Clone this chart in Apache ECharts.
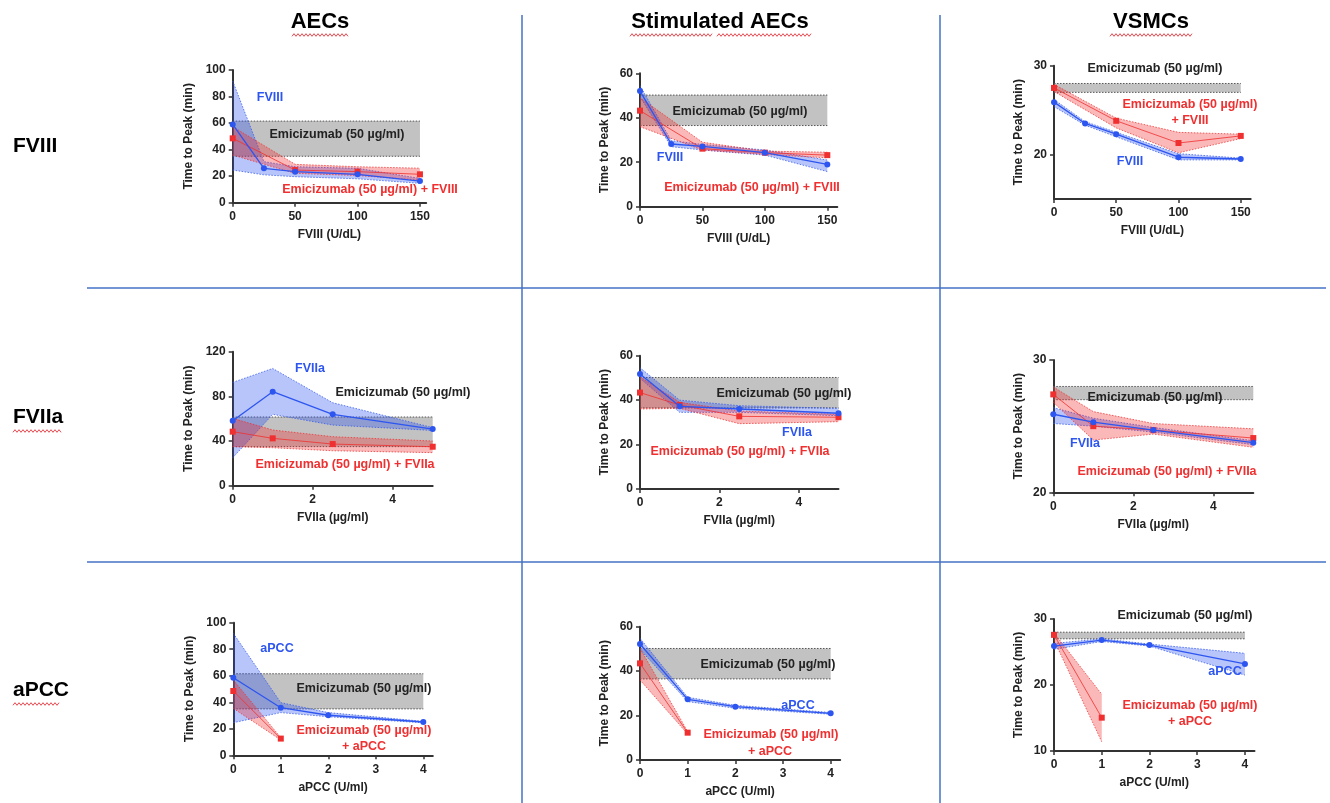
<!DOCTYPE html>
<html><head><meta charset="utf-8">
<script src="https://cdn.jsdelivr.net/npm/echarts@6/dist/echarts.min.js"></script>
<style>html,body{margin:0;padding:0;background:#fff}#c{width:1330px;height:803px}</style>
</head><body><div id="c"></div>
<script>
// ---------- DATA ----------
const colTitles = ['AECs', 'Stimulated AECs', 'VSMCs'];
const rowTitles = ['FVIII', 'FVIIa', 'aPCC'];
const xNames = ['FVIII (U/dL)', 'FVIIa (µg/ml)', 'aPCC (U/ml)'];
const yName = 'Time to Peak (min)';

const xFVIII = [0, 25, 50, 100, 150];
const xFVIIIred = [0, 50, 100, 150];
const xFVIIa = [0, 1, 2.5, 5];
const xAPCC = [0, 1, 2, 4];
const xAPCCred = [0, 1];

const xTicksFVIII = [0, 50, 100, 150];
const xTicksFVIIa = [0, 2, 4];
const xTicksAPCC = [0, 1, 2, 3, 4];
const yTicksAEC = [0, 20, 40, 60, 80, 100];
const yTicksAEC120 = [0, 40, 80, 120];
const yTicksStim = [0, 20, 40, 60];
const yTicksVSMC = [20, 30];
const yTicksVSMC10 = [10, 20, 30];

// Emicizumab (50 µg/ml) reference band [low, high]
const emiAEC = [35, 61.5];
const emiStim = [36.5, 50.2];
const emiVSMC = [27, 28];

// AECs + FVIII
const aecF8BlueMean = [59, 25.9, 23.4, 21.4, 16.3];
const aecF8BlueLo   = [24.6, 21, 19.6, 18, 14.6];
const aecF8BlueHi   = [91.7, 30.9, 27.1, 25.9, 18.3];
const aecF8RedMean  = [48.5, 24.6, 23.4, 21.4];
const aecF8RedLo    = [35.9, 22.1, 20.5, 17];
const aecF8RedHi    = [57.3, 28.9, 27.1, 26];
// Stimulated AECs + FVIII
const stimF8BlueMean = [52, 28.2, 27.1, 24.3, 19];
const stimF8BlueLo   = [49.5, 27, 25.5, 23.2, 15.8];
const stimF8BlueHi   = [54.5, 29.7, 28, 25.5, 21];
const stimF8RedMean  = [43.2, 26.1, 24.3, 23.2];
const stimF8RedLo    = [36, 25.5, 23.5, 22];
const stimF8RedHi    = [49, 29, 25, 24.5];
// VSMCs + FVIII
const vsmcF8BlueMean = [25.9, 23.5, 22.3, 19.7, 19.5];
const vsmcF8BlueLo   = [25.4, 23.3, 22.0, 19.4, 19.4];
const vsmcF8BlueHi   = [26.2, 23.7, 22.5, 20.1, 19.6];
const vsmcF8RedMean  = [27.5, 23.8, 21.3, 22.1];
const vsmcF8RedLo    = [27.1, 23.0, 20.2, 21.8];
const vsmcF8RedHi    = [27.9, 24.1, 22.5, 22.3];
// AECs + FVIIa
const aecF7BlueMean = [58.2, 84.2, 63.9, 50.7];
const aecF7BlueLo   = [25, 63.9, 54.3, 49.5];
const aecF7BlueHi   = [92.5, 105, 74.3, 52];
const aecF7RedMean  = [48.4, 42.4, 37.3, 34.9];
const aecF7RedLo    = [34.9, 34, 31.3, 29.6];
const aecF7RedHi    = [60.3, 49.9, 43.9, 40];
// Stimulated AECs + FVIIa
const stimF7BlueMean = [51.8, 37.2, 36, 34.1];
const stimF7BlueLo   = [49.8, 34.5, 34.5, 33];
const stimF7BlueHi   = [54.6, 40, 37.5, 36.3];
const stimF7RedMean  = [43.4, 37.8, 32.7, 32.3];
const stimF7RedLo    = [36, 36.3, 29.4, 30.3];
const stimF7RedHi    = [50.5, 39, 35.1, 33.6];
// VSMCs + FVIIa
const vsmcF7BlueMean = [25.9, 25.3, 24.7, 23.75];
const vsmcF7BlueLo   = [25.2, 25.0, 24.55, 23.6];
const vsmcF7BlueHi   = [26.4, 25.6, 24.9, 23.9];
const vsmcF7RedMean  = [27.4, 25.0, 24.7, 24.1];
const vsmcF7RedLo    = [26.8, 23.95, 24.4, 23.4];
const vsmcF7RedHi    = [27.96, 26.1, 25.2, 24.8];
// AECs + aPCC
const aecApBlueMean = [58.5, 35.9, 30.2, 25.1];
const aecApBlueLo   = [24.6, 32.2, 29.1, 24.5];
const aecApBlueHi   = [92, 39.7, 32.2, 25.6];
const aecApRedMean  = [48.5, 12.6];
const aecApRedLo    = [35.4, 11.6];
const aecApRedHi    = [56.8, 13.3];
// Stimulated AECs + aPCC
const stimApBlueMean = [52.2, 27.3, 24, 21];
const stimApBlueLo   = [49.8, 26.3, 23.3, 20.6];
const stimApBlueHi   = [54.8, 28.2, 24.6, 21.4];
const stimApRedMean  = [43.5, 12.3];
const stimApRedLo    = [36, 11.7];
const stimApRedHi    = [50.3, 12.8];
// VSMCs + aPCC
const vsmcApBlueMean = [25.9, 26.8, 26.05, 23.2];
const vsmcApBlueLo   = [25.4, 26.6, 25.9, 21.5];
const vsmcApBlueHi   = [26.3, 27.0, 26.2, 24.8];
const vsmcApRedMean  = [27.6, 15.05];
const vsmcApRedLo    = [26.8, 11.4];
const vsmcApRedHi    = [27.9, 18.6];

// ---------- STYLE / LAYOUT ----------
const BLUE = '#2d55f0', RED = '#f03030', DARK = '#222';
const FONT = '"Liberation Sans", Arial, Helvetica, sans-serif';
const emiLabel = 'Emicizumab (50 µg/ml)';

const panels = [
  // row 1: FVIII
  {box:[232.7, 70, 193.5, 132.7], xmax:155, xb:xFVIII, xr:xFVIIIred, xt:xTicksFVIII, ymin:0, ymax:100, yt:yTicksAEC, emi:emiAEC, emiX:150, xn:0, yGap:38,
   b:[aecF8BlueMean, aecF8BlueLo, aecF8BlueHi], r:[aecF8RedMean, aecF8RedLo, aecF8RedHi],
   txt:[['FVIII',270,98,BLUE],[emiLabel,337,135,DARK],[emiLabel+' + FVIII',370,190,RED]]},
  {box:[640, 73.3, 197.3, 133.4], xmax:158, xb:xFVIII, xr:xFVIIIred, xt:xTicksFVIII, ymin:0, ymax:60, yt:yTicksStim, emi:emiStim, emiX:150, xn:0, yGap:29,
   b:[stimF8BlueMean, stimF8BlueLo, stimF8BlueHi], r:[stimF8RedMean, stimF8RedLo, stimF8RedHi],
   txt:[['FVIII',670,158,BLUE],[emiLabel,740,112,DARK],[emiLabel+' + FVIII',752,188,RED]]},
  {box:[1054, 65.7, 196.7, 133.3], xmax:158, xb:xFVIII, xr:xFVIIIred, xt:xTicksFVIII, ymin:15, ymax:30, yt:yTicksVSMC, emi:emiVSMC, emiX:150, xn:0, yGap:29,
   b:[vsmcF8BlueMean, vsmcF8BlueLo, vsmcF8BlueHi], r:[vsmcF8RedMean, vsmcF8RedLo, vsmcF8RedHi],
   txt:[[emiLabel,1155,69,DARK],[emiLabel,1190,105,RED],['+ FVIII',1190,121,RED],['FVIII',1130,162,BLUE]]},
  // row 2: FVIIa
  {box:[232.7, 351.7, 200, 134], xmax:5, xb:xFVIIa, xr:xFVIIa, xt:xTicksFVIIa, ymin:0, ymax:120, yt:yTicksAEC120, emi:emiAEC, emiX:5, xn:1, yGap:38,
   b:[aecF7BlueMean, aecF7BlueLo, aecF7BlueHi], r:[aecF7RedMean, aecF7RedLo, aecF7RedHi],
   txt:[['FVIIa',310,369,BLUE],[emiLabel,403,393,DARK],[emiLabel+' + FVIIa',345,465,RED]]},
  {box:[640, 355.7, 198.5, 133.3], xmax:5, xb:xFVIIa, xr:xFVIIa, xt:xTicksFVIIa, ymin:0, ymax:60, yt:yTicksStim, emi:emiStim, emiX:5, xn:1, yGap:29,
   b:[stimF7BlueMean, stimF7BlueLo, stimF7BlueHi], r:[stimF7RedMean, stimF7RedLo, stimF7RedHi],
   txt:[[emiLabel,784,394,DARK],['FVIIa',797,433,BLUE],[emiLabel+' + FVIIa',740,452,RED]]},
  {box:[1053.3, 360, 200, 132.3], xmax:5, xb:xFVIIa, xr:xFVIIa, xt:xTicksFVIIa, ymin:20, ymax:30, yt:yTicksVSMC, emi:emiVSMC, emiX:5, xn:1, yGap:29,
   b:[vsmcF7BlueMean, vsmcF7BlueLo, vsmcF7BlueHi], r:[vsmcF7RedMean, vsmcF7RedLo, vsmcF7RedHi],
   txt:[[emiLabel,1155,398,DARK],['FVIIa',1085,444,BLUE],[emiLabel+' + FVIIa',1167,472,RED]]},
  // row 3: aPCC
  {box:[233.3, 622.7, 199.5, 132.6], xmax:4.2, xb:xAPCC, xr:xAPCCred, xt:xTicksAPCC, ymin:0, ymax:100, yt:yTicksAEC, emi:emiAEC, emiX:4, xn:2, yGap:38,
   b:[aecApBlueMean, aecApBlueLo, aecApBlueHi], r:[aecApRedMean, aecApRedLo, aecApRedHi],
   txt:[['aPCC',277,649,BLUE],[emiLabel,364,689,DARK],[emiLabel,364,731,RED],['+ aPCC',364,747,RED]]},
  {box:[640, 626.7, 200.2, 133.3], xmax:4.2, xb:xAPCC, xr:xAPCCred, xt:xTicksAPCC, ymin:0, ymax:60, yt:yTicksStim, emi:emiStim, emiX:4, xn:2, yGap:29,
   b:[stimApBlueMean, stimApBlueLo, stimApBlueHi], r:[stimApRedMean, stimApRedLo, stimApRedHi],
   txt:[[emiLabel,768,665,DARK],['aPCC',798,706,BLUE],[emiLabel,771,735,RED],['+ aPCC',770,752,RED]]},
  {box:[1054, 619, 200.5, 132], xmax:4.2, xb:xAPCC, xr:xAPCCred, xt:xTicksAPCC, ymin:10, ymax:30, yt:yTicksVSMC10, emi:emiVSMC, emiX:4, xn:2, yGap:29,
   b:[vsmcApBlueMean, vsmcApBlueLo, vsmcApBlueHi], r:[vsmcApRedMean, vsmcApRedLo, vsmcApRedHi],
   txt:[[emiLabel,1185,616,DARK],['aPCC',1225,672,BLUE],[emiLabel,1190,706,RED],['+ aPCC',1190,722,RED]]}
];

const zip = (xs, ys) => xs.map((x, i) => [x, ys[i]]);

const grid = [], xAxis = [], yAxis = [], series = [], graphic = [];

// shaded range band drawn as one polygon through the axes' scales
function band(i, xs, lo, hi, stroke, fill, z) {
  series.push({
    type:'custom', xAxisIndex:i, yAxisIndex:i, z:z, silent:true, animation:false, clip:true,
    data: xs.map((x, k) => [x, lo[k], hi[k]]),
    encode:{x:0, y:[1, 2]},
    renderItem: function (params, api) {
      if (params.dataIndex !== 0) return null;
      const top = xs.map((x, k) => api.coord([x, hi[k]]));
      const bot = xs.map((x, k) => api.coord([x, lo[k]]));
      const poly = top.concat(bot.slice().reverse());
      return {type:'group', children:[
        {type:'polygon', shape:{points:poly}, style:{fill:fill, stroke:null}},
        {type:'polyline', shape:{points:top}, style:{stroke:stroke, lineWidth:1, lineDash:[1.5, 1.5], fill:null}},
        {type:'polyline', shape:{points:bot}, style:{stroke:stroke, lineWidth:1, lineDash:[1.5, 1.5], fill:null}}
      ]};
    }
  });
}

panels.forEach((p, i) => {
  grid.push({left:p.box[0], top:p.box[1], width:p.box[2], height:p.box[3], containLabel:false});
  const axisCommon = {
    axisLine:{show:true, onZero:false, lineStyle:{color:'#333', width:2}},
    axisTick:{show:true, length:4, lineStyle:{color:'#333', width:1.5}},
    splitLine:{show:false},
    nameTextStyle:{fontFamily:FONT, fontWeight:'bold', fontSize:12, color:DARK},
  };
  xAxis.push(Object.assign({}, axisCommon, {
    type:'value', gridIndex:i, min:0, max:p.xmax,
    axisTick:Object.assign({}, axisCommon.axisTick, {customValues:p.xt}),
    axisLabel:{customValues:p.xt, fontFamily:FONT, fontWeight:'bold', fontSize:12, color:DARK, margin:8},
    name:xNames[p.xn], nameLocation:'middle', nameGap:26
  }));
  yAxis.push(Object.assign({}, axisCommon, {
    type:'value', gridIndex:i, min:p.ymin, max:p.ymax,
    axisTick:Object.assign({}, axisCommon.axisTick, {customValues:p.yt}),
    axisLabel:{customValues:p.yt, fontFamily:FONT, fontWeight:'bold', fontSize:12, color:DARK, margin:7},
    name:yName, nameLocation:'middle', nameGap:p.yGap
  }));
  // Emicizumab band
  band(i, [0, p.emiX], [p.emi[0], p.emi[0]], [p.emi[1], p.emi[1]], '#555', 'rgba(120,120,120,0.45)', 1);
  // agent-alone (blue) band
  band(i, p.xb, p.b[1], p.b[2], 'rgba(45,85,240,0.75)', 'rgba(40,80,240,0.33)', 2);
  // emicizumab + agent (red) band
  band(i, p.xr, p.r[1], p.r[2], 'rgba(240,48,48,0.75)', 'rgba(240,40,40,0.33)', 3);
  // mean lines
  series.push({type:'line', xAxisIndex:i, yAxisIndex:i, data:zip(p.xr, p.r[0]), symbol:'rect', symbolSize:6,
    itemStyle:{color:RED}, lineStyle:{color:RED, width:1, opacity:0.8}, z:5, animation:false});
  series.push({type:'line', xAxisIndex:i, yAxisIndex:i, data:zip(p.xb, p.b[0]), symbol:'circle', symbolSize:6,
    itemStyle:{color:BLUE}, lineStyle:{color:BLUE, width:1.3}, z:6, animation:false});
  // annotations
  p.txt.forEach(t => graphic.push({type:'text', x:t[1], y:t[2], z:100,
    style:{text:t[0], fill:t[3], font:'bold 12.5px ' + FONT, align:'center', verticalAlign:'middle'}}));
});

// column & row titles
const colX = [320, 720, 1151];
colTitles.forEach((t, i) => graphic.push({type:'text', x:colX[i], y:22,
  style:{text:t, fill:'#000', font:'bold 22px ' + FONT, align:'center', verticalAlign:'middle'}}));
const rowY = [146, 417, 690];
rowTitles.forEach((t, i) => graphic.push({type:'text', x:13, y:rowY[i],
  style:{text:t, fill:'#000', font:'bold 21px ' + FONT, align:'left', verticalAlign:'middle'}}));

// separators
const SEP = '#4472c4';
[[522, 15, 522, 803], [940, 15, 940, 803], [87, 288, 1326, 288], [87, 562, 1326, 562]].forEach(s =>
  graphic.push({type:'line', shape:{x1:s[0], y1:s[1], x2:s[2], y2:s[3]}, style:{stroke:SEP, lineWidth:1.5}}));

// spell-check wavy underlines
function wave(x1, x2, y) {
  const pts = [];
  for (let x = x1, k = 0; x <= x2; x += 2, k++) pts.push([x, y + (k % 2 ? -1.3 : 1.3)]);
  graphic.push({type:'polyline', shape:{points:pts}, style:{stroke:'#e8484f', lineWidth:1, fill:null}});
}
wave(292, 348, 35); wave(630, 712, 35); wave(717, 811, 35); wave(1110, 1193, 35);
wave(13, 62, 431); wave(13, 60, 704);

const chart = echarts.init(document.getElementById('c'), null, {renderer:'canvas'});
chart.setOption({animation:false, backgroundColor:'#fff', grid, xAxis, yAxis, series, graphic});
</script>
</body></html>
